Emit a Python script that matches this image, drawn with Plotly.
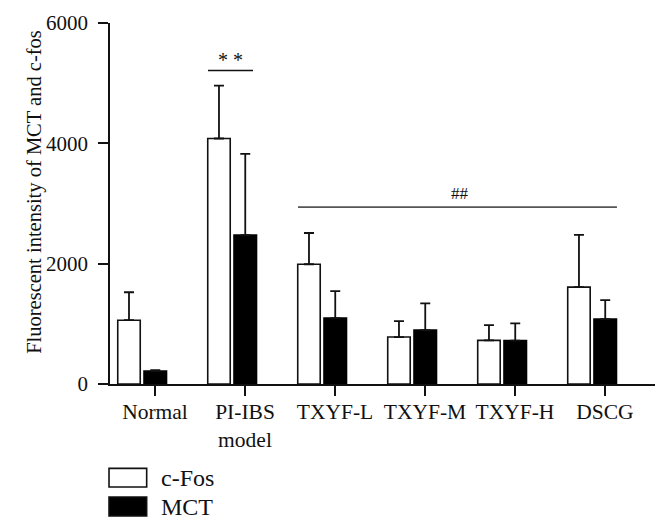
import plotly.graph_objects as go

# ---- data ----
categories = ["Normal", "PI-IBS model", "TXYF-L", "TXYF-M", "TXYF-H", "DSCG"]
cfos_mean = [1060, 4080, 1990, 780, 725, 1610]
cfos_err = [465, 880, 520, 265, 255, 870]
mct_mean = [215, 2475, 1095, 895, 722, 1078]
mct_err = [15, 1350, 450, 445, 285, 315]
tick_labels = ["Normal", "PI-IBS<br>model", "TXYF-L", "TXYF-M", "TXYF-H", "DSCG"]
y_ticks = [0, 2000, 4000, 6000]
series_names = ["c-Fos", "MCT"]
y_title = "Fluorescent intensity of MCT and c-fos"

INK = "#111111"
FONT = "Liberation Serif, Times New Roman, serif"
BAR_W = 0.25

fig = go.Figure()
fig.add_trace(go.Bar(
    name=series_names[0], x=categories, y=cfos_mean,
    width=BAR_W, offset=-0.414, showlegend=False,
    marker=dict(color="white", line=dict(color=INK, width=1.6)),
    error_y=dict(type="data", symmetric=False, array=cfos_err,
                 arrayminus=[0] * len(cfos_err), color=INK, thickness=1.8, width=5),
))
fig.add_trace(go.Bar(
    name=series_names[1], x=categories, y=mct_mean,
    width=BAR_W, offset=-0.122, showlegend=False,
    marker=dict(color="black", line=dict(color="black", width=1.6)),
    error_y=dict(type="data", symmetric=False, array=mct_err,
                 arrayminus=[0] * len(mct_err), color=INK, thickness=1.8, width=5),
))

# significance markers
fig.add_shape(type="line", xref="x", yref="y", x0=0.589, x1=1.089, y0=5210, y1=5210,
              line=dict(color=INK, width=1.6))
fig.add_annotation(x=0.84, y=5210, xref="x", yref="y", text="* *", showarrow=False,
                   yanchor="bottom", yshift=-2, font=dict(family=FONT, size=20, color=INK))
fig.add_shape(type="line", xref="x", yref="y", x0=1.589, x1=5.133, y0=2940, y1=2940,
              line=dict(color="#555555", width=1.6))
fig.add_annotation(x=3.39, y=2940, xref="x", yref="y", text="##", showarrow=False,
                   yanchor="bottom", yshift=2, font=dict(family=FONT, size=17, color=INK))

# y-axis title
fig.add_annotation(x=-0.1385, y=0.531, xref="paper", yref="paper", text=y_title,
                   textangle=-90, showarrow=False, xanchor="center", yanchor="middle",
                   font=dict(family=FONT, size=20.5, color=INK))

# legend (large swatches, as in the original)
legend_fill = ["white", "black"]
legend_y = [(-0.2855, -0.2338), (-0.3657, -0.3131)]
for name, fill, (y0, y1) in zip(series_names, legend_fill, legend_y):
    fig.add_shape(type="rect", xref="paper", yref="paper", x0=-0.0018, x1=0.0673,
                  y0=y0, y1=y1, fillcolor=fill, line=dict(color=INK, width=1.6))
    fig.add_annotation(x=0.0899, y=(y0 + y1) / 2, xref="paper", yref="paper", text=name,
                       showarrow=False, xanchor="left", yanchor="middle",
                       font=dict(family=FONT, size=24, color=INK))

# page body adds an 8px offset, so margins are compensated
fig.update_layout(
    width=669, height=531,
    margin=dict(l=102, r=22, t=15, b=154.5),
    paper_bgcolor="white", plot_bgcolor="white",
    barmode="overlay",
    font=dict(family=FONT, size=21, color=INK),
    showlegend=False,
    xaxis=dict(type="category", range=[-0.5, 5.556], showline=True, linecolor=INK,
               linewidth=1.6, ticks="outside", ticklen=10, tickwidth=1.6, tickcolor=INK,
               tickvals=categories, ticktext=tick_labels, automargin=False,
               ticklabelstandoff=-3,
               tickfont=dict(family=FONT, size=21.5, color=INK),
               showgrid=False, zeroline=False),
    yaxis=dict(range=[0, 6000], tickvals=y_ticks, showline=True, linecolor=INK,
               linewidth=1.6, ticks="outside", ticklen=10, tickwidth=1.6, tickcolor=INK,
               showgrid=False, zeroline=False, ticklabelstandoff=6, automargin=False,
               tickfont=dict(family=FONT, size=21, color=INK)),
)

fig.write_html("out.html")
